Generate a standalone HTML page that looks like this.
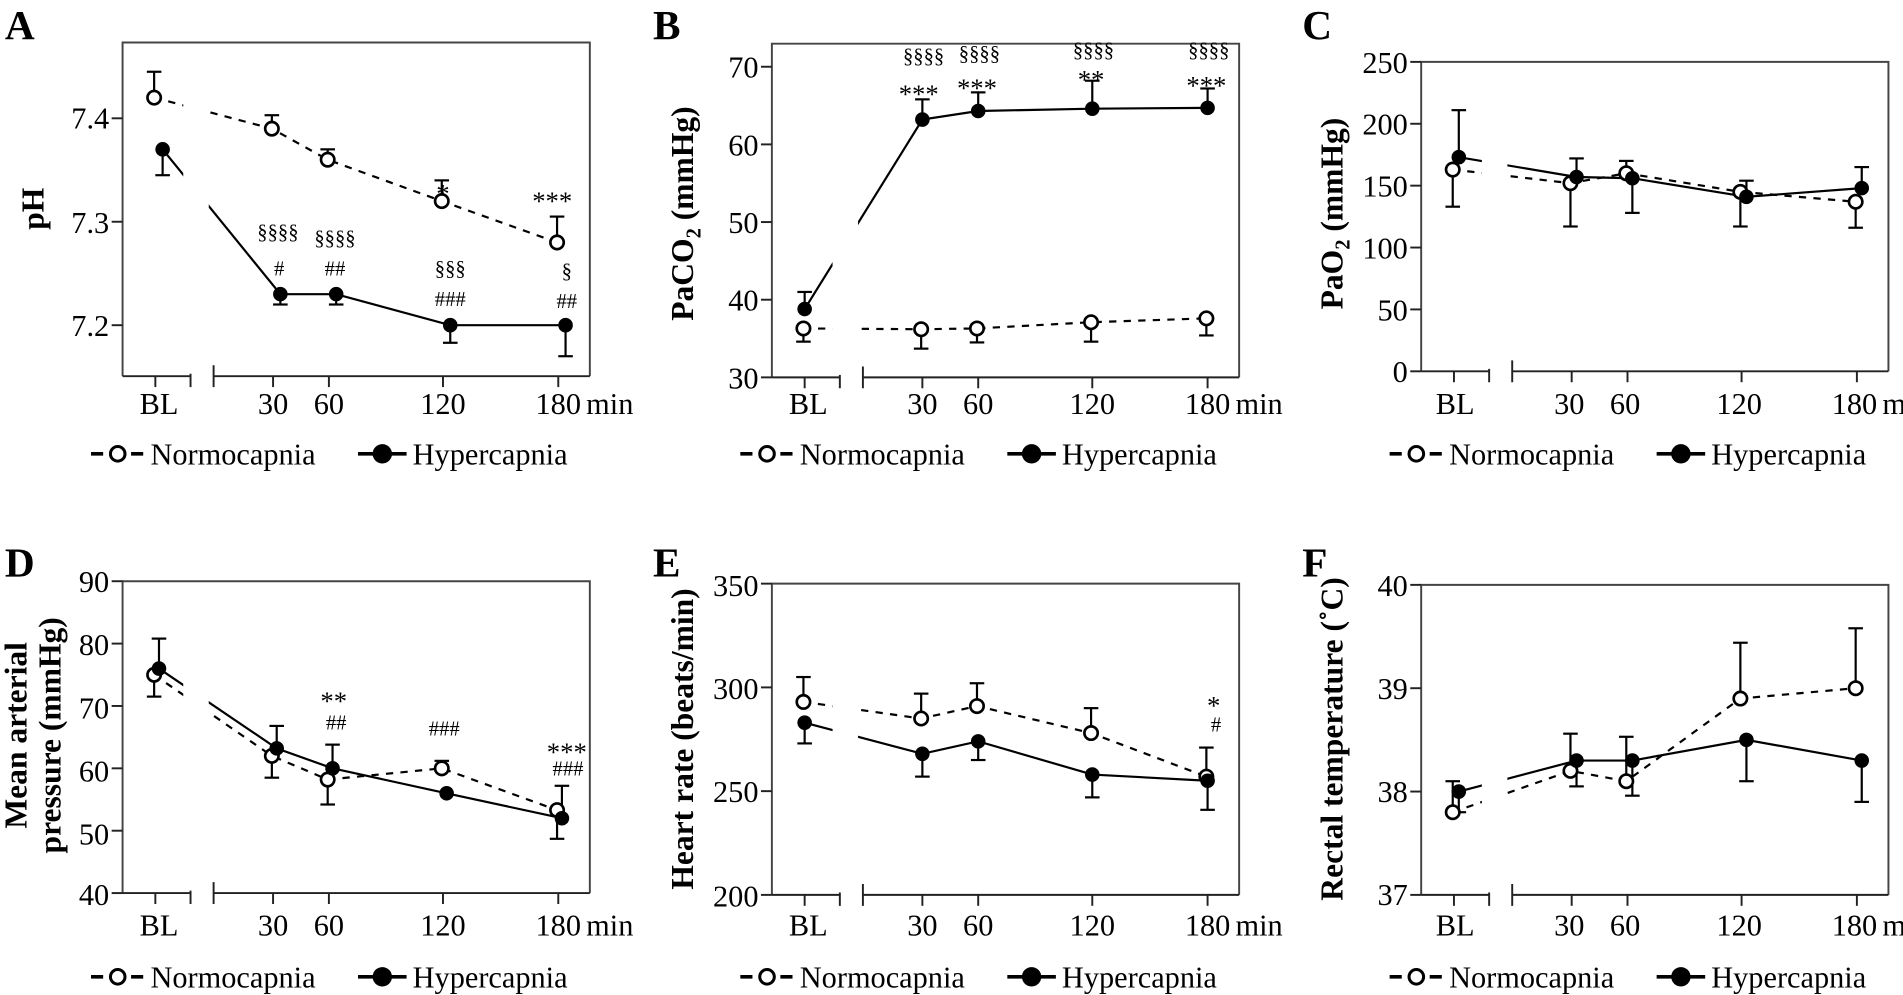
<!DOCTYPE html>
<html><head><meta charset="utf-8"><style>html,body{margin:0;padding:0;background:#fff}svg{display:block}text{font-family:"Liberation Serif",serif;fill:#000}.t{font-size:25px}.yl{font-size:26px;font-weight:bold}.L{font-size:34px;font-weight:bold}.an{font-size:17px}.st{font-size:22px}</style></head>
<body>
<svg id="s" width="1903" height="995" viewBox="0 0 1568 820" preserveAspectRatio="none" xmlns="http://www.w3.org/2000/svg">
<g id="g"></g>
<text class="L" x="4" y="32">A</text>
<text class="L" x="538" y="32">B</text>
<text class="L" x="1073" y="32">C</text>
<text class="L" x="4" y="475">D</text>
<text class="L" x="538" y="475">E</text>
<text class="L" x="1073" y="475">F</text>
<g class="t" text-anchor="end">
<text x="90" y="106">7.4</text><text x="90" y="192">7.3</text><text x="90" y="277">7.2</text>
<text x="625" y="64">70</text><text x="625" y="128">60</text><text x="625" y="192">50</text><text x="625" y="256">40</text><text x="625" y="320">30</text>
<text x="1160" y="60">250</text><text x="1160" y="111">200</text><text x="1160" y="162">150</text><text x="1160" y="213">100</text><text x="1160" y="264">50</text><text x="1160" y="315">0</text>
<text x="90" y="488">90</text><text x="90" y="540">80</text><text x="90" y="592">70</text><text x="90" y="644">60</text><text x="90" y="696">50</text><text x="90" y="746">40</text>
<text x="625" y="491">350</text><text x="625" y="576">300</text><text x="625" y="661">250</text><text x="625" y="747">200</text>
<text x="1160" y="491">40</text><text x="1160" y="576">39</text><text x="1160" y="661">38</text><text x="1160" y="746">37</text>
</g>
<text class="yl" transform="translate(36,172) rotate(-90)" text-anchor="middle">pH</text>
<text class="yl" transform="translate(571,176) rotate(-90)" text-anchor="middle">PaCO<tspan font-size="17" dy="6">2</tspan><tspan dy="-6"> (mmHg)</tspan></text>
<text class="yl" transform="translate(1106,176) rotate(-90)" text-anchor="middle">PaO<tspan font-size="17" dy="6">2</tspan><tspan dy="-6"> (mmHg)</tspan></text>
<text class="yl" transform="translate(22,606) rotate(-90)" text-anchor="middle">Mean arterial</text>
<text class="yl" transform="translate(50,606) rotate(-90)" text-anchor="middle">pressure (mmHg)</text>
<text class="yl" transform="translate(571,609) rotate(-90)" text-anchor="middle">Heart rate (beats/min)</text>
<text class="yl" transform="translate(1106,609) rotate(-90)" text-anchor="middle">Rectal temperature (˚C)</text>
<g class="t" text-anchor="middle">
<text x="131" y="341">BL</text><text x="225" y="341">30</text><text x="271" y="341">60</text><text x="365" y="341">120</text><text x="460" y="341">180</text>
<text x="666" y="341">BL</text><text x="760" y="341">30</text><text x="806" y="341">60</text><text x="900" y="341">120</text><text x="995" y="341">180</text>
<text x="1199" y="341">BL</text><text x="1293" y="341">30</text><text x="1339" y="341">60</text><text x="1433" y="341">120</text><text x="1528" y="341">180</text>
<text x="131" y="771">BL</text><text x="225" y="771">30</text><text x="271" y="771">60</text><text x="365" y="771">120</text><text x="460" y="771">180</text>
<text x="666" y="771">BL</text><text x="760" y="771">30</text><text x="806" y="771">60</text><text x="900" y="771">120</text><text x="995" y="771">180</text>
<text x="1199" y="771">BL</text><text x="1293" y="771">30</text><text x="1339" y="771">60</text><text x="1433" y="771">120</text><text x="1528" y="771">180</text>
</g>
<g class="t">
<text x="483" y="341">min</text><text x="1018" y="341">min</text><text x="1551" y="341">min</text>
<text x="483" y="771">min</text><text x="1018" y="771">min</text><text x="1551" y="771">min</text>
</g>
<g class="t">
<text x="124" y="383">Normocapnia</text><text x="340" y="383">Hypercapnia</text>
<text x="659" y="383">Normocapnia</text><text x="875" y="383">Hypercapnia</text>
<text x="1194" y="383">Normocapnia</text><text x="1410" y="383">Hypercapnia</text>
<text x="124" y="814">Normocapnia</text><text x="340" y="814">Hypercapnia</text>
<text x="659" y="814">Normocapnia</text><text x="875" y="814">Hypercapnia</text>
<text x="1194" y="814">Normocapnia</text><text x="1410" y="814">Hypercapnia</text>
</g>
<g class="an" text-anchor="middle">
<text x="229" y="197">§§§§</text><text x="230" y="227">#</text>
<text x="276" y="202">§§§§</text><text x="276" y="227">##</text>
<text x="371" y="227">§§§</text><text x="371" y="252">###</text>
<text x="467" y="229">§</text><text x="467" y="254">##</text>
<text x="761" y="52">§§§§</text><text x="807" y="50">§§§§</text><text x="901" y="47">§§§§</text><text x="996" y="47">§§§§</text>
<text x="366" y="606">###</text><text x="468" y="639">###</text>
<text x="277" y="601">##</text><text x="1002" y="603">#</text>
</g>
<g class="st" text-anchor="middle">
<text x="365" y="167">*</text><text x="455" y="173">***</text>
<text x="757" y="85">***</text><text x="805" y="80">***</text><text x="899" y="73">**</text><text x="994" y="78">***</text>
<text x="275" y="585">**</text><text x="467" y="627">***</text>
<text x="1000" y="589">*</text>
</g>
</svg>
<script>
const NS="http://www.w3.org/2000/svg",G=document.getElementById('g');
function el(t,a){const e=document.createElementNS(NS,t);for(const k in a)e.setAttribute(k,a[k]);G.appendChild(e);return e;}
const TX=[128,225,271,365,460];
const P=[
{ox:0,top:35,bot:310,v1:7.4,y1:97.5,v2:7.2,y2:268,yt:[7.4,7.3,7.2],ho:6,
 N:[[7.42,7.445],[7.39,7.403],[7.36,7.37],[7.32,7.34],[7.28,7.305]],
 H:[[7.37,7.345],[7.23,7.22],[7.23,7.22],[7.2,7.183],[7.2,7.17]]},
{ox:535,top:36,bot:311,v1:70,y1:55,v2:30,y2:311,yt:[70,60,50,40,30],ho:0,
 N:[[36.3,34.6],[36.2,33.7],[36.3,34.5],[37.1,34.6],[37.6,35.4]],
 H:[[38.8,41],[63.2,65.8],[64.3,66.7],[64.6,68.2],[64.7,67.2]]},
{ox:1070,top:51,bot:306,v1:250,y1:51,v2:0,y2:306,yt:[250,200,150,100,50,0],ho:4,
 N:[[163,133],[152,117],[160,170],[145,117],[137,116]],
 H:[[173,211],[157,172],[156,128],[141,154],[148,165]]},
{ox:0,top:479,bot:736,v1:90,y1:479,v2:40,y2:736,yt:[90,80,70,60,50,40],ho:3,
 N:[[75,71.5],[62,58.5],[58.2,54.2],[60,61.2],[53.3,48.7]],
 H:[[76,80.8],[63.2,66.8],[60,63.8],[56,56],[52,57.2]]},
{ox:535,top:481,bot:737.5,v1:350,y1:481,v2:200,y2:737.5,yt:[350,300,250,200],ho:0,
 N:[[293,305],[285,297],[291,302],[278,290],[257,271]],
 H:[[283,273],[268,257],[274,265],[258,247],[255,241]]},
{ox:1070,top:482,bot:737.5,v1:40,y1:482,v2:37,y2:737.5,yt:[40,39,38,37],ho:4,
 N:[[37.8,38.1],[38.2,38.56],[38.1,38.53],[38.9,39.44],[39.0,39.58]],
 H:[[38.0,37.8],[38.3,38.05],[38.3,37.96],[38.5,38.1],[38.3,37.9]]}
];
const LS={stroke:'#000','stroke-width':1.8,fill:'none'};
P.forEach((p,i)=>{
 const Y=v=>p.y1+(v-p.v1)*(p.y2-p.y1)/(p.v2-p.v1);
 const L=101+p.ox,R=486+p.ox,b1=157+p.ox,b2=176+p.ox;
 el('path',{d:`M${L},${p.bot}V${p.top}H${R}V${p.bot}`,stroke:'#444','stroke-width':1.6,fill:'none'});
 el('path',{d:`M${L},${p.bot}H${b1}M${b2},${p.bot}H${R}M${b1},${p.bot-9}V${p.bot+9}M${b2},${p.bot-9}V${p.bot+9}`,stroke:'#222','stroke-width':1.6,fill:'none'});
 TX.forEach(x=>el('line',{x1:x+p.ox,x2:x+p.ox,y1:p.bot,y2:p.bot+9,stroke:'#222','stroke-width':1.6}));
 p.yt.forEach(v=>el('line',{x1:L-9,x2:L,y1:Y(v),y2:Y(v),stroke:'#222','stroke-width':1.6}));
 const series=[[p.N,-1,'6,6',false],[p.H,p.ho,null,true]];
 series.forEach(([d,o,dash,fill])=>{
  const pts=d.map((q,j)=>[TX[j]+p.ox+o,Y(q[0])]);
  const a={...LS,d:'M'+pts.map(q=>q.join(',')).join('L')};if(dash)a['stroke-dasharray']=dash;
  el('path',a);
 });
 el('rect',{x:b1-6,y:p.top+2,width:b2-b1+2,height:p.bot-p.top-4,fill:'#fff'});
 series.forEach(([d,o,dash,fill])=>{
  d.forEach((q,j)=>{
   const x=TX[j]+p.ox+o,y=Y(q[0]),e=Y(q[1]);
   if(Math.abs(e-y)>1){el('line',{x1:x,x2:x,y1:y,y2:e,stroke:'#000','stroke-width':1.8});
   el('line',{x1:x-6,x2:x+6,y1:e,y2:e,stroke:'#000','stroke-width':1.8});}
  });
 });
 series.forEach(([d,o,dash,fill])=>{
  d.forEach((q,j)=>{
   const x=TX[j]+p.ox+o,y=Y(q[0]);
   el('circle',fill?{cx:x,cy:y,r:6,fill:'#000'}:{cx:x,cy:y,r:5.5,fill:'#fff',stroke:'#000','stroke-width':2.2});
  });
 });
 const ly=i<3?374:805,lx=p.ox;
 el('path',{d:`M${lx+75},${ly}h10M${lx+108},${ly}h10`,stroke:'#000','stroke-width':3});
 el('circle',{cx:lx+97,cy:ly,r:6,fill:'#fff',stroke:'#000','stroke-width':2.5});
 el('line',{x1:lx+295,x2:lx+335,y1:ly,y2:ly,stroke:'#000','stroke-width':3});
 el('circle',{cx:lx+315,cy:ly,r:8,fill:'#000'});
});
</script>
</body></html>
